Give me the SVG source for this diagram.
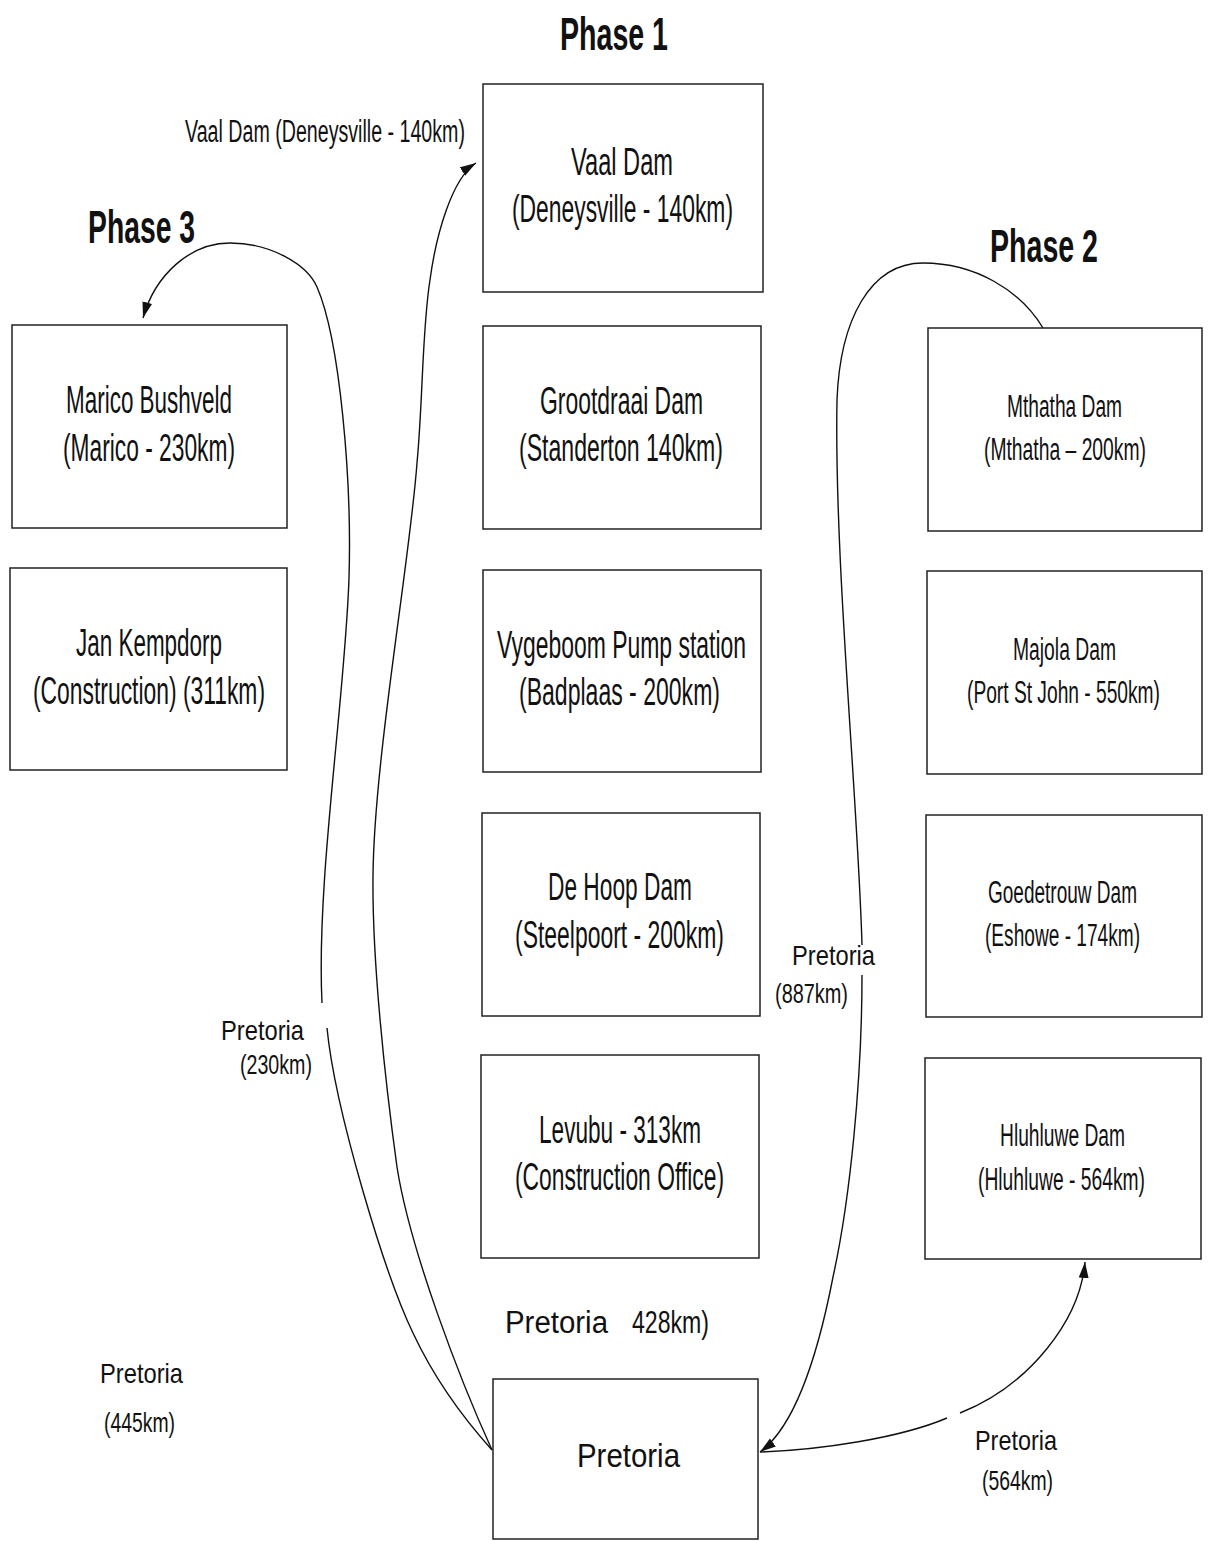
<svg xmlns="http://www.w3.org/2000/svg" width="1208" height="1541" viewBox="0 0 1208 1541">
<defs>
<marker id="arr" markerUnits="userSpaceOnUse" markerWidth="18" markerHeight="12" refX="16" refY="5" orient="auto">
<path d="M0,0 L16,5 L0,10 z" fill="#111"/>
</marker>
<style>
rect.box{fill:#fff;stroke:#222;stroke-width:1.5}
text{font-family:"Liberation Sans",Arial,sans-serif;fill:#111}
.t38{font-size:38px}
.t31{font-size:31px}
.t28{font-size:28px}
.ph{font-size:46px;font-weight:bold}
.c{fill:none;stroke:#111;stroke-width:1.4}
</style>
</defs>
<rect width="1208" height="1541" fill="#fff"/>

<g id="titles">
<text class="ph" x="560" y="50" textLength="108" lengthAdjust="spacingAndGlyphs">Phase 1</text>
<text class="ph" x="88" y="243" textLength="107" lengthAdjust="spacingAndGlyphs">Phase 3</text>
<text class="ph" x="990" y="262" textLength="108" lengthAdjust="spacingAndGlyphs">Phase 2</text>
</g>

<g id="connectors">
<path class="c" d="M492,1450 C465,1420 435,1380 413,1333 C385,1275 335,1110 327,1028"/>
<path class="c" marker-end="url(#arr)" d="M322,1003 C316,880 345,700 349,578 C352,480 340,340 317,287 C307,264 270,243 230,243 C190,243 155,275 143,318"/>
<path class="c" marker-end="url(#arr)" d="M492,1450 C460,1380 410,1250 397,1167 C385,1080 372,960 373,876 C374,760 410,560 417,463 C423,400 422,330 430,280 C436,235 452,178 476,163"/>
<path class="c" d="M1043,328 C1020,290 975,263 923,263 C870,263 840,320 837,400 C834,560 858,800 862,945"/>
<path class="c" marker-end="url(#arr)" d="M862,975 C862,1080 850,1200 833,1277 C815,1370 790,1430 760,1452"/>
<path class="c" d="M760,1452 C820,1450 900,1438 947,1418"/>
<path class="c" marker-end="url(#arr)" d="M960,1413 C1030,1385 1080,1320 1085,1262"/>
</g>

<g id="vaal">
<rect class="box" x="483" y="84" width="280" height="208"/>
<text class="t38" x="571" y="175" textLength="102" lengthAdjust="spacingAndGlyphs">Vaal Dam</text>
<text class="t38" x="512" y="222" textLength="221" lengthAdjust="spacingAndGlyphs">(Deneysville - 140km)</text>
</g>
<g id="grootdraai">
<rect class="box" x="483" y="326" width="278" height="203"/>
<text class="t38" x="540" y="414" textLength="163" lengthAdjust="spacingAndGlyphs">Grootdraai Dam</text>
<text class="t38" x="519" y="461" textLength="204" lengthAdjust="spacingAndGlyphs">(Standerton 140km)</text>
</g>
<g id="vygeboom">
<rect class="box" x="483" y="570" width="278" height="202"/>
<text class="t38" x="497" y="658" textLength="249" lengthAdjust="spacingAndGlyphs">Vygeboom Pump station</text>
<text class="t38" x="519" y="705" textLength="201" lengthAdjust="spacingAndGlyphs">(Badplaas - 200km)</text>
</g>
<g id="dehoop">
<rect class="box" x="482" y="813" width="278" height="203"/>
<text class="t38" x="548" y="900" textLength="144" lengthAdjust="spacingAndGlyphs">De Hoop Dam</text>
<text class="t38" x="515" y="948" textLength="209" lengthAdjust="spacingAndGlyphs">(Steelpoort - 200km)</text>
</g>
<g id="levubu">
<rect class="box" x="481" y="1055" width="278" height="203"/>
<text class="t38" x="539" y="1143" textLength="162" lengthAdjust="spacingAndGlyphs">Levubu - 313km</text>
<text class="t38" x="515" y="1190" textLength="209" lengthAdjust="spacingAndGlyphs">(Construction Office)</text>
</g>
<g id="pretoria">
<rect class="box" x="493" y="1379" width="265" height="160"/>
<text style="font-size:33px" x="577" y="1467" textLength="103" lengthAdjust="spacingAndGlyphs">Pretoria</text>
</g>
<g id="marico">
<rect class="box" x="12" y="325" width="275" height="203"/>
<text class="t38" x="66" y="413" textLength="166" lengthAdjust="spacingAndGlyphs">Marico Bushveld</text>
<text class="t38" x="63" y="461" textLength="172" lengthAdjust="spacingAndGlyphs">(Marico - 230km)</text>
</g>
<g id="jankempdorp">
<rect class="box" x="10" y="568" width="277" height="202"/>
<text class="t38" x="76" y="656" textLength="146" lengthAdjust="spacingAndGlyphs">Jan Kempdorp</text>
<text class="t38" x="33" y="704" textLength="232" lengthAdjust="spacingAndGlyphs">(Construction) (311km)</text>
</g>
<g id="mthatha">
<rect class="box" x="928" y="328" width="274" height="203"/>
<text class="t31" x="1007" y="417" textLength="115" lengthAdjust="spacingAndGlyphs">Mthatha Dam</text>
<text class="t31" x="984" y="460" textLength="162" lengthAdjust="spacingAndGlyphs">(Mthatha – 200km)</text>
</g>
<g id="majola">
<rect class="box" x="927" y="571" width="275" height="203"/>
<text class="t31" x="1013" y="660" textLength="103" lengthAdjust="spacingAndGlyphs">Majola Dam</text>
<text class="t31" x="967" y="703" textLength="193" lengthAdjust="spacingAndGlyphs">(Port St John - 550km)</text>
</g>
<g id="goedetrouw">
<rect class="box" x="926" y="815" width="276" height="202"/>
<text class="t31" x="988" y="903" textLength="149" lengthAdjust="spacingAndGlyphs">Goedetrouw Dam</text>
<text class="t31" x="985" y="946" textLength="155" lengthAdjust="spacingAndGlyphs">(Eshowe - 174km)</text>
</g>
<g id="hluhluwe">
<rect class="box" x="925" y="1058" width="276" height="201"/>
<text class="t31" x="1000" y="1146" textLength="125" lengthAdjust="spacingAndGlyphs">Hluhluwe Dam</text>
<text class="t31" x="978" y="1190" textLength="167" lengthAdjust="spacingAndGlyphs">(Hluhluwe - 564km)</text>
</g>

<g id="labels">
<text class="t31" x="185" y="142" textLength="280" lengthAdjust="spacingAndGlyphs">Vaal Dam (Deneysville - 140km)</text>
<text style="font-size:31px" x="505" y="1333" textLength="103" lengthAdjust="spacingAndGlyphs">Pretoria</text>
<text style="font-size:31px" x="632" y="1333" textLength="77" lengthAdjust="spacingAndGlyphs">428km)</text>
<text class="t28" x="792" y="965" textLength="83" lengthAdjust="spacingAndGlyphs">Pretoria</text>
<text class="t28" x="775" y="1003" textLength="73" lengthAdjust="spacingAndGlyphs">(887km)</text>
<text class="t28" x="221" y="1040" textLength="83" lengthAdjust="spacingAndGlyphs">Pretoria</text>
<text class="t28" x="240" y="1074" textLength="72" lengthAdjust="spacingAndGlyphs">(230km)</text>
<text class="t28" x="100" y="1383" textLength="83" lengthAdjust="spacingAndGlyphs">Pretoria</text>
<text class="t28" x="104" y="1432" textLength="71" lengthAdjust="spacingAndGlyphs">(445km)</text>
<text class="t28" x="975" y="1450" textLength="82" lengthAdjust="spacingAndGlyphs">Pretoria</text>
<text class="t28" x="982" y="1490" textLength="71" lengthAdjust="spacingAndGlyphs">(564km)</text>
</g>
</svg>
